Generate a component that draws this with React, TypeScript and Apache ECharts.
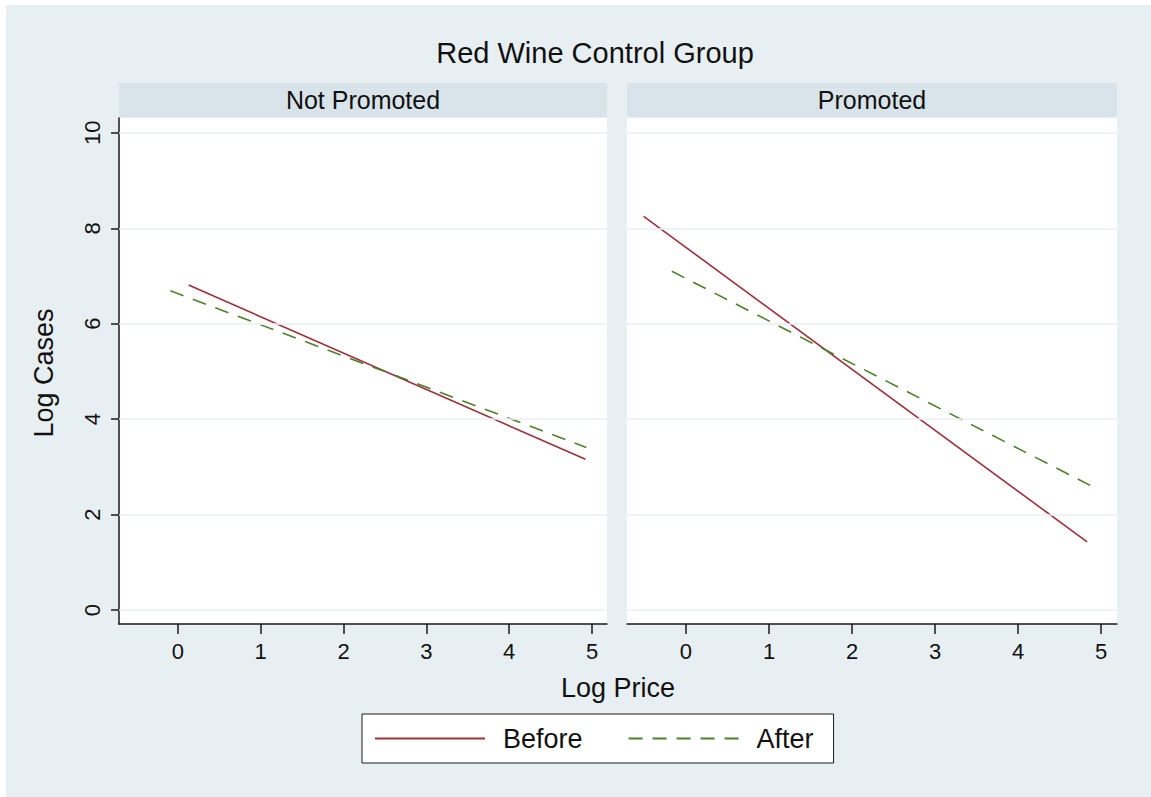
import React, { useEffect, useRef } from "react";
import * as echarts from "echarts";

const seriesNames = ["Before", "After"];
const panelTitles = ["Not Promoted", "Promoted"];
const xTicks = [0, 1, 2, 3, 4, 5];
const yTicks = [0, 2, 4, 6, 8, 10];

// Not Promoted panel
const npBeforeX = [0.13, 4.92];
const npBeforeY = [6.81, 3.16];
const npAfterX = [-0.09, 4.93];
const npAfterY = [6.69, 3.41];

// Promoted panel
const pBeforeX = [-0.51, 4.83];
const pBeforeY = [8.25, 1.43];
const pAfterX = [-0.17, 4.95];
const pAfterY = [7.1, 2.54];

const FONT = "Liberation Sans, Arial, Helvetica, sans-serif";
const RED = "#9e2f3c";
const GREEN = "#4f7f2a";
const BG = "#e8eff2";
const STRIP = "#d8e4ea";
const GRIDC = "#e9f0f3";
const AXISC = "#1a1a1a";

const pairs = (xs: number[], ys: number[]) => xs.map((x, i) => [x, ys[i]]);

export default function App() {
  const ref = useRef<HTMLDivElement>(null);
  useEffect(() => {
    if (!ref.current) return;
    const chart = echarts.init(ref.current, null, { renderer: "svg" });
    const grids = [
      { left: 119, top: 118, width: 488, height: 506 },
      { left: 627, top: 118, width: 490, height: 506 },
    ];
    const xAxisBase = (gi: number) => ({
      type: "value",
      gridIndex: gi,
      min: -0.71,
      max: gi === 0 ? 5.18 : 5.19,
      splitLine: { show: false },
      axisLine: { show: true, onZero: false, lineStyle: { color: AXISC, width: 1.5 } },
      axisTick: { show: true, length: 10, customValues: xTicks, lineStyle: { color: AXISC, width: 1.5 } },
      axisLabel: { customValues: xTicks, fontSize: 22, fontFamily: FONT, color: "#111", margin: 16 },
    });
    const yAxisBase = (gi: number) => ({
      type: "value",
      gridIndex: gi,
      min: -0.29,
      max: 10.31,
      splitLine: { show: false },
      axisLine: { show: gi === 0, onZero: false, lineStyle: { color: AXISC, width: 1.5 } },
      axisTick: { show: gi === 0, length: 8, customValues: yTicks, lineStyle: { color: AXISC, width: 1.5 } },
      axisLabel: {
        show: gi === 0,
        customValues: yTicks,
        rotate: 90,
        fontSize: 22,
        fontFamily: FONT,
        color: "#111",
        margin: 16,
      },
    });
    const gridLines = {
      silent: true,
      symbol: "none",
      label: { show: false },
      lineStyle: { color: GRIDC, width: 1.5, type: "solid" },
      data: yTicks.map((v) => ({ yAxis: v })),
    };
    const mk = (name: string, gi: number, data: number[][], withGrid: boolean) => ({
      name,
      type: "line",
      xAxisIndex: gi,
      yAxisIndex: gi,
      data,
      symbol: "none",
      showSymbol: false,
      lineStyle:
        name === "Before"
          ? { color: RED, width: 1.6, type: "solid" }
          : { color: GREEN, width: 1.6, type: [14, 10] },
      itemStyle: { color: name === "Before" ? RED : GREEN },
      markLine: withGrid ? gridLines : undefined,
      z: name === "Before" ? 3 : 4,
    });
    chart.setOption({
      animation: false,
      backgroundColor: BG,
      grid: grids.map((g) => ({ ...g, show: true, backgroundColor: "#ffffff", borderWidth: 0 })),
      xAxis: [xAxisBase(0), xAxisBase(1)],
      yAxis: [yAxisBase(0), yAxisBase(1)],
      legend: {
        left: 362,
        top: 714,
        orient: "horizontal",
        data: seriesNames,
        itemWidth: 110,
        itemHeight: 14,
        itemGap: 45,
        padding: [9, 20, 9, 12],
        backgroundColor: "#ffffff",
        borderColor: AXISC,
        borderWidth: 1,
        borderRadius: 0,
        itemStyle: { opacity: 0 },
        lineStyle: { width: 2 },
        textStyle: { fontSize: 27, fontFamily: FONT, color: "#111", lineHeight: 31, padding: [0, 0, 0, 13] },
      },
      graphic: [
        { type: "rect", left: 0, top: 0, shape: { x: 0, y: 0, width: 1151, height: 5 }, style: { fill: "#ffffff" }, silent: true },
        { type: "rect", left: 0, top: 0, shape: { x: 0, y: 0, width: 6, height: 797 }, style: { fill: "#ffffff" }, silent: true },
        { type: "rect", shape: { x: 119, y: 83, width: 488, height: 34 }, style: { fill: STRIP }, silent: true },
        { type: "rect", shape: { x: 627, y: 83, width: 490, height: 34 }, style: { fill: STRIP }, silent: true },
        {
          type: "text",
          x: 595,
          y: 53,
          style: { text: "Red Wine Control Group", fontSize: 29, fontFamily: FONT, fill: "#111", align: "center", verticalAlign: "middle" },
        },
        {
          type: "text",
          x: 363,
          y: 100,
          style: { text: panelTitles[0], fontSize: 25, fontFamily: FONT, fill: "#111", align: "center", verticalAlign: "middle" },
        },
        {
          type: "text",
          x: 872,
          y: 100,
          style: { text: panelTitles[1], fontSize: 25, fontFamily: FONT, fill: "#111", align: "center", verticalAlign: "middle" },
        },
        {
          type: "text",
          x: 618,
          y: 688,
          style: { text: "Log Price", fontSize: 27, fontFamily: FONT, fill: "#111", align: "center", verticalAlign: "middle" },
        },
        {
          type: "text",
          x: 44,
          y: 373,
          rotation: Math.PI / 2,
          style: { text: "Log Cases", fontSize: 27, fontFamily: FONT, fill: "#111", align: "center", verticalAlign: "middle" },
        },
      ],
      series: [
        mk("Before", 0, pairs(npBeforeX, npBeforeY), true),
        mk("After", 0, pairs(npAfterX, npAfterY), false),
        mk("Before", 1, pairs(pBeforeX, pBeforeY), true),
        mk("After", 1, pairs(pAfterX, pAfterY), false),
      ],
    });
    return () => chart.dispose();
  }, []);
  return (
    <div
      ref={ref}
      style={{ position: "fixed", left: 0, top: 0, width: 1151, height: 797 }}
    />
  );
}
